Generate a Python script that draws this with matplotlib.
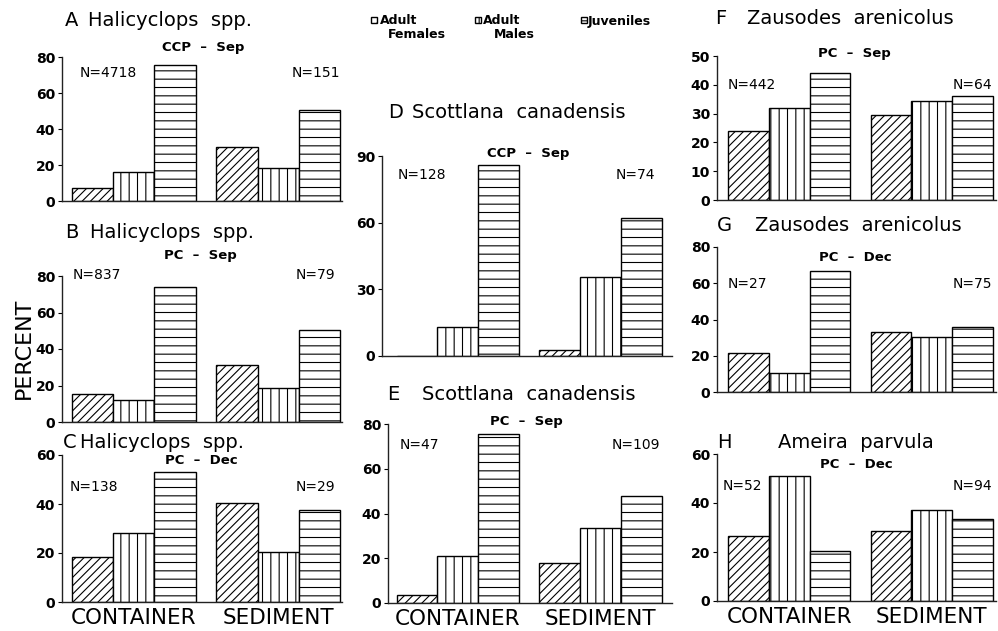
import numpy as np
import matplotlib.pyplot as plt
from matplotlib.patches import Rectangle

W, H = 998, 631

groups = ['CONTAINER', 'SEDIMENT']
stages = ['Adult Females', 'Adult Males', 'Juveniles']

# percent of each stage (females, males, juveniles)
a_container = [7.5, 16.0, 75.5]
a_sediment = [30.0, 18.5, 50.5]
b_container = [15.5, 12.0, 74.0]
b_sediment = [31.5, 18.5, 50.5]
c_container = [18.5, 28.0, 53.0]
c_sediment = [40.5, 20.5, 37.5]
d_container = [0.0, 13.0, 86.0]
d_sediment = [2.5, 35.5, 62.0]
e_container = [3.5, 21.0, 75.5]
e_sediment = [18.0, 33.5, 48.0]
f_container = [24.0, 32.0, 44.0]
f_sediment = [29.5, 34.5, 36.0]
g_container = [21.5, 10.5, 66.5]
g_sediment = [33.0, 30.5, 36.0]
h_container = [26.5, 51.0, 20.5]
h_sediment = [28.5, 37.0, 33.5]

letters = ['A', 'B', 'C', 'D', 'E', 'F', 'G', 'H']
species = ['Halicyclops  spp.', 'Halicyclops  spp.', 'Halicyclops  spp.',
           'Scottlana  canadensis', 'Scottlana  canadensis',
           'Zausodes  arenicolus', 'Zausodes  arenicolus', 'Ameira  parvula']
sites = ['CCP  –  Sep', 'PC  –  Sep', 'PC  –  Dec', 'CCP  –  Sep',
         'PC  –  Sep', 'PC  –  Sep', 'PC  –  Dec', 'PC  –  Dec']
n_container = [4718, 837, 138, 128, 47, 442, 27, 52]
n_sediment = [151, 79, 29, 74, 109, 64, 75, 94]

containers = [a_container, b_container, c_container, d_container,
              e_container, f_container, g_container, h_container]
sediments = [a_sediment, b_sediment, c_sediment, d_sediment,
             e_sediment, f_sediment, g_sediment, h_sediment]

# panel geometry in pixels: axis x, first bar left, last bar right, axis end,
# y of top tick, y of zero, ymax, tick step
frames = [
    (62, 72, 340, 342, 57, 201, 80, 20),
    (62, 72, 340, 342, 276, 422, 80, 20),
    (62, 72, 340, 342, 455, 602, 60, 20),
    (382, 396.5, 662, 672, 156, 356, 90, 30),
    (388, 396.5, 662, 672, 424, 603, 80, 20),
    (717, 728, 993, 996, 56, 200, 50, 10),
    (717, 728, 993, 996, 247, 392, 80, 20),
    (717, 728, 993, 996, 454, 601, 60, 20),
]
# label positions: letter x, name x, title y, site center x, site y, N y, N left x, N right x
labels_at = [
    (65, 88, 21, 203, 47, 73, 80, 340),
    (65, 90, 233, 200, 255, 275, 73, 335),
    (63, 80, 443, 201, 461, 487, 70, 335),
    (388, 412, 112, 528, 153, 175, 398, 655),
    (387, 422, 395, 526, 421, 445, 400, 660),
    (715, 747, 19, 854, 54, 85, 728, 992),
    (717, 755, 225, 855, 258, 284, 728, 992),
    (717, 778, 443, 856, 464, 486, 723, 992),
]
bottom_row = [False, False, True, False, True, False, False, True]

hatches = ['////', '||', '--']
x_cont = np.array([0.0, 1.0, 2.0])
x_sed = np.array([3.5, 4.5, 5.5])

plt.rcParams['font.family'] = 'DejaVu Sans'
plt.rcParams['hatch.linewidth'] = 0.8

fig = plt.figure(figsize=(W / 100, H / 100), dpi=100)


def fx(px):
    return px / W


def fy(py):
    return 1 - py / H


for i in range(8):
    axis_x, bl, br, ae, y_top, y_zero, ymax, step = frames[i]
    unit = (br - bl) / 6.5
    x0 = -0.5 - (bl - axis_x) / unit
    x1 = 6.0 + (ae - br) / unit
    ax = fig.add_axes([fx(axis_x), fy(y_zero), (ae - axis_x) / W, (y_zero - y_top) / H])
    for k in range(3):
        ax.bar([x_cont[k], x_sed[k]], [containers[i][k], sediments[i][k]], width=1.0,
               color='white', edgecolor='black', linewidth=1.0, hatch=hatches[k])
    ax.set_xlim(x0, x1)
    ax.set_ylim(0, ymax)
    ax.set_yticks(np.arange(0, ymax + 1, step))
    ax.tick_params(axis='y', direction='out', length=3, width=0.8, pad=2, labelsize=10)
    for t in ax.get_yticklabels():
        t.set_fontweight('bold')
    for s in ['top', 'right']:
        ax.spines[s].set_visible(False)
    for s in ['left', 'bottom']:
        ax.spines[s].set_linewidth(1.0)
        ax.spines[s].set_color('#222222')
    if bottom_row[i]:
        ax.set_xticks([1.0, 4.5], groups)
        ax.tick_params(axis='x', length=0, pad=4, labelsize=15.5)
    else:
        ax.set_xticks([])

    lx, nx, ty, sx, sy, ny, nlx, nrx = labels_at[i]
    fig.text(fx(lx), fy(ty), letters[i], fontsize=14, ha='left', va='center')
    fig.text(fx(nx), fy(ty), species[i], fontsize=14, ha='left', va='center')
    fig.text(fx(sx), fy(sy), sites[i], fontsize=9.5, fontweight='bold', ha='center', va='center')
    fig.text(fx(nlx), fy(ny), f'N={n_container[i]}', fontsize=10, ha='left', va='center')
    fig.text(fx(nrx), fy(ny), f'N={n_sediment[i]}', fontsize=10, ha='right', va='center')

fig.text(fx(24), fy(348), 'PERCENT', fontsize=16, rotation=90, ha='center', va='center')

# legend keys drawn by hand
key_boxes = [(371, 17), (475, 17), (581, 17)]
key_text = [[('Adult', 380, 21), ('Females', 388, 35)],
            [('Adult', 483, 21), ('Males', 494, 35)],
            [('Juveniles', 588, 21)]]
for k in range(3):
    bx, by = key_boxes[k]
    fig.add_artist(Rectangle((fx(bx), fy(by + 6)), 6 / W, 6 / H, transform=fig.transFigure,
                             facecolor='white', edgecolor='black', linewidth=1.0,
                             hatch=hatches[k][:2]))
    for txt, tx, tyy in key_text[k]:
        fig.text(fx(tx), fy(tyy), txt, fontsize=9, fontweight='bold', ha='left', va='center')

fig.savefig('out.png', dpi=100)
